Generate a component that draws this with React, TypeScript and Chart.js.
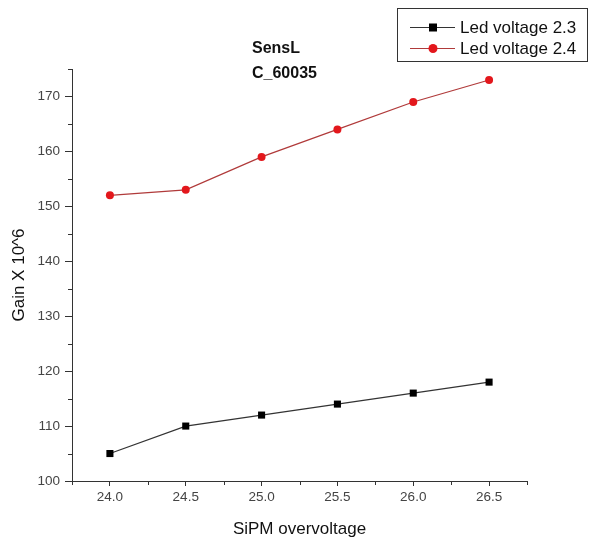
import React, { useEffect, useRef } from "react";
import { Chart, registerables } from "chart.js";

Chart.register(...registerables);

const overvoltage = [24.0, 24.5, 25.0, 25.5, 26.0, 26.5];
const gainLed23 = [105, 110, 112, 114, 116, 118];
const gainLed24 = [152, 153, 159, 164, 169, 173];
const xTicks = [24.0, 24.5, 25.0, 25.5, 26.0, 26.5];
const xMinorTicks = [23.75, 24.25, 24.75, 25.25, 25.75, 26.25, 26.75];
const yTicks = [100, 110, 120, 130, 140, 150, 160, 170];
const yMinorTicks = [105, 115, 125, 135, 145, 155, 165, 175];
const titleLines = ["SensL", "C_60035"];
const seriesNames = ["Led voltage 2.3", "Led voltage 2.4"];

const FONT = "Arial, 'Liberation Sans', sans-serif";

const overlayPlugin = {
  id: "overlay",
  afterDraw(chart: any) {
    const ctx = chart.ctx;
    const xs = chart.scales.x;
    const ys = chart.scales.y;
    ctx.save();
    // minor ticks
    ctx.strokeStyle = "#333";
    ctx.lineWidth = 1;
    ctx.beginPath();
    yMinorTicks.forEach((v) => {
      const py = Math.round(ys.getPixelForValue(v)) + 0.5;
      ctx.moveTo(ys.right - 4, py);
      ctx.lineTo(ys.right, py);
    });
    xMinorTicks.forEach((v) => {
      const px = Math.round(xs.getPixelForValue(v)) + 0.5;
      ctx.moveTo(px, xs.top);
      ctx.lineTo(px, xs.top + 4);
    });
    ctx.stroke();

    // title
    ctx.fillStyle = "#111";
    ctx.font = `bold 16px ${FONT}`;
    ctx.textAlign = "left";
    ctx.textBaseline = "alphabetic";
    titleLines.forEach((t, i) => ctx.fillText(t, 252, 53 + i * 25));

    // legend
    ctx.strokeStyle = "#333";
    ctx.lineWidth = 1;
    ctx.strokeRect(397.5, 8.5, 190, 53);
    const rows = [27, 48];
    chart.data.datasets.forEach((ds: any, i: number) => {
      const y = rows[i];
      ctx.strokeStyle = ds.borderColor;
      ctx.lineWidth = 1.2;
      ctx.beginPath();
      ctx.moveTo(410, y + 0.5);
      ctx.lineTo(455, y + 0.5);
      ctx.stroke();
      ctx.fillStyle = ds.pointBackgroundColor;
      if (ds.pointStyle === "rect") {
        ctx.fillRect(429, y - 3.5, 8, 8);
      } else {
        ctx.beginPath();
        ctx.arc(433, y + 0.5, 4.5, 0, Math.PI * 2);
        ctx.fill();
      }
      ctx.fillStyle = "#111";
      ctx.font = `17px ${FONT}`;
      ctx.textBaseline = "middle";
      ctx.fillText(seriesNames[i], 460, y + 1);
    });
    ctx.restore();
  },
};

export default function App() {
  const ref = useRef<HTMLCanvasElement>(null);
  useEffect(() => {
    document.body.style.margin = "0";
    const chart = new Chart(ref.current as HTMLCanvasElement, {
      type: "line",
      data: {
        datasets: [
          {
            label: seriesNames[0],
            data: overvoltage.map((x, i) => ({ x, y: gainLed23[i] })),
            borderColor: "#333",
            borderWidth: 1.2,
            pointStyle: "rect",
            pointRadius: 5,
            pointBackgroundColor: "#000",
            pointBorderColor: "#000",
            pointBorderWidth: 0,
            tension: 0,
          },
          {
            label: seriesNames[1],
            data: overvoltage.map((x, i) => ({ x, y: gainLed24[i] })),
            borderColor: "#b03a3a",
            borderWidth: 1.2,
            pointStyle: "circle",
            pointRadius: 4,
            pointBackgroundColor: "#e3171c",
            pointBorderColor: "#e3171c",
            pointBorderWidth: 0,
            tension: 0,
          },
        ],
      },
      options: {
        animation: false,
        responsive: false,
        devicePixelRatio: 1,
        layout: { padding: { top: 69, right: 63, left: 0, bottom: 0 } },
        plugins: {
          legend: { display: false },
          title: { display: false },
          tooltip: { enabled: false },
        },
        scales: {
          x: {
            type: "linear",
            min: 23.75,
            max: 26.75,
            afterFit: (s: any) => {
              s.height = 61;
            },
            afterBuildTicks: (s: any) => {
              s.ticks = xTicks.map((v) => ({ value: v }));
            },
            grid: {
              drawOnChartArea: false,
              drawTicks: true,
              tickLength: 5,
              tickColor: "#333",
            },
            border: { display: true, color: "#333", width: 1 },
            ticks: {
              color: "#444",
              font: { family: FONT, size: 13.5 },
              padding: 3,
              maxRotation: 0,
              callback: (v: any) => Number(v).toFixed(1),
            },
            title: {
              display: true,
              text: "SiPM overvoltage",
              color: "#111",
              font: { family: FONT, size: 17 },
              padding: { top: 0, bottom: 2 },
            },
          },
          y: {
            type: "linear",
            min: 100,
            max: 175,
            afterFit: (s: any) => {
              s.width = 72;
            },
            afterBuildTicks: (s: any) => {
              s.ticks = yTicks.map((v) => ({ value: v }));
            },
            grid: {
              drawOnChartArea: false,
              drawTicks: true,
              tickLength: 7,
              tickColor: "#333",
            },
            border: { display: true, color: "#333", width: 1 },
            ticks: {
              color: "#444",
              font: { family: FONT, size: 13.5 },
              padding: 5,
            },
            title: {
              display: true,
              text: "Gain X 10^6",
              color: "#111",
              font: { family: FONT, size: 17 },
              padding: { top: 9, bottom: 0 },
            },
          },
        },
      },
      plugins: [overlayPlugin],
    } as any);
    return () => chart.destroy();
  }, []);
  return (
    <div style={{ width: 590, height: 542, background: "#fff" }}>
      <canvas ref={ref} width={590} height={542} />
    </div>
  );
}
